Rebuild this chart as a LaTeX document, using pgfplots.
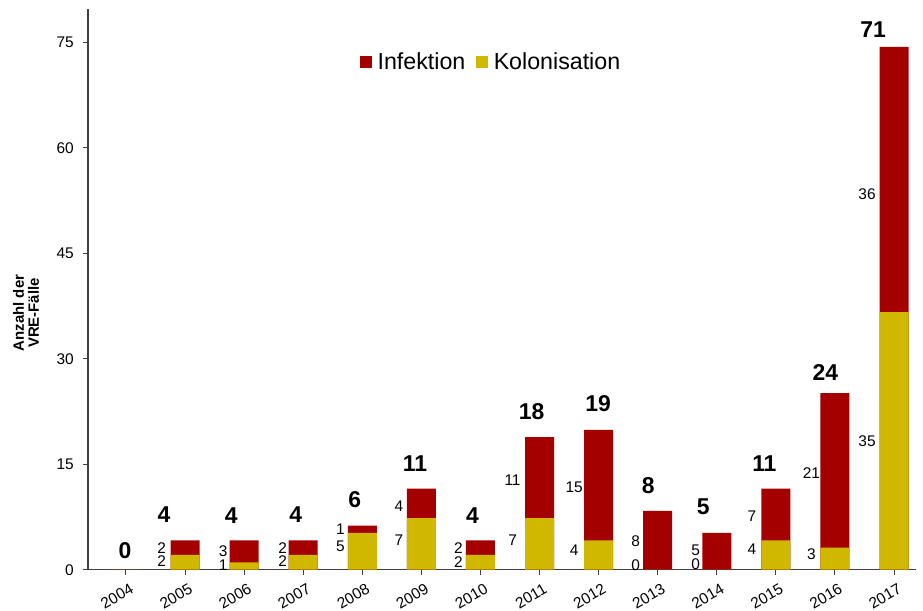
\documentclass[border=0pt]{standalone}
\usepackage{pgfplots}
\usepackage{pgfplotstable}
\pgfplotsset{compat=1.18}
\usepackage{fontspec}
\setmainfont{Liberation Sans}
\definecolor{cInf}{HTML}{A50000}
\definecolor{cKol}{HTML}{D1B800}
\definecolor{cAx}{HTML}{404040}

% i = Position, kol/inf = Fälle, tot = Summe
% ky/iy/ty = Höhe der Beschriftungen, sx/tx = seitlicher Versatz in px
\pgfplotstableread{
i year kol inf tot ky    iy    ty    sx    tx
0 2004 0   0   0   nan   nan   2.54  0     -1
1 2005 2   2   4   1.1   3.0   7.43  -23.5 -21
2 2006 1   3   4   0.64  2.54  7.33  -21   -13
3 2007 2   2   4   1.1   3.0   7.5   -20.5 -7.5
4 2008 5   1   6   3.12  5.49  9.47  -22   -7.5
5 2009 7   4   11  4.03  8.69  14.4  -22.5 -6.5
6 2010 2   2   4   1.0   3.0   7.33  -22   -8
7 2011 7   11  18  4.03  12.18 21.46 -27   -8
8 2012 4   15  19  2.68  11.23 22.5  -24.5 -0.5
9 2013 0   8   8   0.64  3.90  11.37 -22   -9.5
10 2014 0  5   5   0.73  2.68  8.56  -21   -13.5
11 2015 4  7   11  2.77  7.29  14.36 -24   -11.5
12 2016 3  21  24  2.13  13.13 26.75 -23.5 -9.5
13 2017 35 36  71  17.52 51.03 73.3  -27   -21
}\data

\begin{document}
\begin{tikzpicture}
\useasboundingbox (0,0) rectangle (923bp,611bp);
\begin{axis}[
  at={(88bp,41.3bp)}, anchor=south west,
  scale only axis, width=828bp, height=560.7bp,
  xmin=-0.643, xmax=13.372, ymin=0, ymax=76.16,
  axis lines=left, axis line style={-, cAx, line width=1.5bp},
  clip=false,
  xtick={0,...,13}, xticklabels from table={\data}{year},
  ytick={0,14.327,28.653,42.980,57.307,71.633},
  yticklabels={0,15,30,45,60,75},
  tick align=outside, major tick length=5bp,
  tick style={cAx, line width=1bp},
  tick label style={font=\fontsize{15.5}{18}\selectfont},
  yticklabel style={inner sep=0pt, xshift=-9bp},
  xticklabel style={inner sep=0pt, xshift=6bp, yshift=-13bp, rotate=30, anchor=east},
  legend columns=2,
  legend style={at={(rel axis cs:0.3285,0.9055)}, anchor=west, draw=none, fill=none,
    inner sep=0pt, font=\fontsize{23.3}{25}\selectfont, nodes={inner sep=3bp},
    /tikz/every odd column/.append style={column sep=3bp},
    /tikz/every even column/.append style={column sep=8bp}},
]
\addlegendimage{legend image code/.code={\fill[cInf] (0bp,-5.5bp) rectangle (11bp,5.5bp);}}
\addlegendentry{Infektion}
\addlegendimage{legend image code/.code={\fill[cKol] (0bp,-5.5bp) rectangle (11bp,5.5bp);}}
\addlegendentry{Kolonisation}

% roter Balken bis zur Summe, gelber Balken darüber
\addplot[ybar, bar width=29bp, bar shift=0pt, fill=cInf, draw=none] table[x=i, y=tot] {\data};
\addplot[ybar, bar width=29bp, bar shift=0pt, fill=cKol, draw=none] table[x=i, y=kol] {\data};

% Beschriftungen
\pgfplotsset{seglabel/.style={draw=none, nodes near coords, point meta=explicit symbolic,
  nodes near coords style={anchor=center, inner sep=0pt, font=\fontsize{15.5}{17}\selectfont}}}
\addplot[seglabel] table[x expr=\thisrow{i}+\thisrow{sx}/59.08, y=ky, meta=kol] {\data};
\addplot[seglabel] table[x expr=\thisrow{i}+\thisrow{sx}/59.08, y=iy, meta=inf] {\data};
\addplot[draw=none, nodes near coords, point meta=explicit symbolic,
  nodes near coords style={anchor=center, inner sep=0pt,
    font=\bfseries\fontsize{23}{25}\selectfont}]
  table[x expr=\thisrow{i}+\thisrow{tx}/59.08, y=ty, meta=tot] {\data};
\end{axis}
\node[rotate=90, align=center, font=\bfseries\fontsize{15}{15}\selectfont]
  at (26bp,298bp) {Anzahl der\\VRE-Fälle};
\end{tikzpicture}
\end{document}
